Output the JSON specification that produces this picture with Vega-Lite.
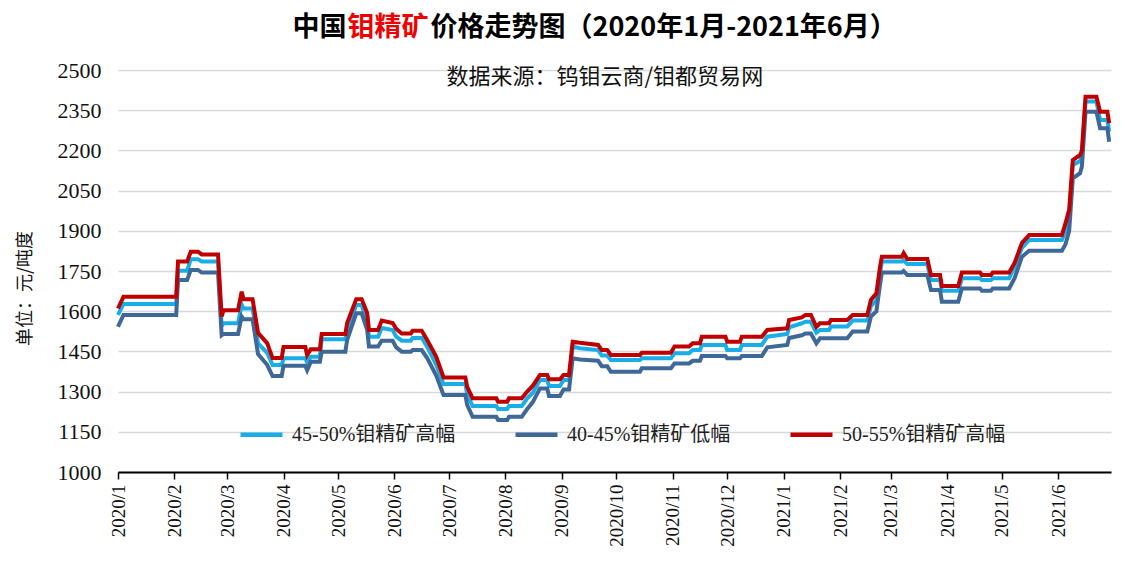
{
  "$schema": "https://vega.github.io/schema/vega-lite/v6.json",
  "width": 993,
  "height": 402,
  "autosize": {"type": "none"},
  "padding": {"left": 118, "top": 70, "right": 34, "bottom": 96},
  "background": "white",
  "config": {"view": {"stroke": null}},
  "data": {"values": [
    {"d":"2020-01-01","45-50%钼精矿高幅":1586,"40-45%钼精矿低幅":1542,"50-55%钼精矿高幅":1610},
    {"d":"2020-01-04","45-50%钼精矿高幅":1627,"40-45%钼精矿低幅":1586,"50-55%钼精矿高幅":1654},
    {"d":"2020-02-02","45-50%钼精矿高幅":1627,"40-45%钼精矿低幅":1586,"50-55%钼精矿高幅":1654},
    {"d":"2020-02-03","45-50%钼精矿高幅":1751,"40-45%钼精矿低幅":1716,"50-55%钼精矿高幅":1785},
    {"d":"2020-02-08","45-50%钼精矿高幅":1751,"40-45%钼精矿低幅":1716,"50-55%钼精矿高幅":1785},
    {"d":"2020-02-10","45-50%钼精矿高幅":1794,"40-45%钼精矿低幅":1754,"50-55%钼精矿高幅":1822},
    {"d":"2020-02-14","45-50%钼精矿高幅":1794,"40-45%钼精矿低幅":1754,"50-55%钼精矿高幅":1822},
    {"d":"2020-02-16","45-50%钼精矿高幅":1785,"40-45%钼精矿低幅":1744,"50-55%钼精矿高幅":1812},
    {"d":"2020-02-25","45-50%钼精矿高幅":1785,"40-45%钼精矿低幅":1744,"50-55%钼精矿高幅":1812},
    {"d":"2020-02-27","45-50%钼精矿高幅":1545,"40-45%钼精矿低幅":1510,"50-55%钼精矿高幅":1580},
    {"d":"2020-02-28","45-50%钼精矿高幅":1555,"40-45%钼精矿低幅":1515,"50-55%钼精矿高幅":1604},
    {"d":"2020-03-07","45-50%钼精矿高幅":1555,"40-45%钼精矿低幅":1515,"50-55%钼精矿高幅":1604},
    {"d":"2020-03-09","45-50%钼精矿高幅":1625,"40-45%钼精矿低幅":1580,"50-55%钼精矿高幅":1673},
    {"d":"2020-03-10","45-50%钼精矿高幅":1610,"40-45%钼精矿低幅":1570,"50-55%钼精矿高幅":1645},
    {"d":"2020-03-15","45-50%钼精矿高幅":1610,"40-45%钼精矿低幅":1570,"50-55%钼精矿高幅":1645},
    {"d":"2020-03-18","45-50%钼精矿高幅":1480,"40-45%钼精矿低幅":1440,"50-55%钼精矿高幅":1519},
    {"d":"2020-03-23","45-50%钼精矿高幅":1445,"40-45%钼精矿低幅":1400,"50-55%钼精矿高幅":1481},
    {"d":"2020-03-26","45-50%钼精矿高幅":1399,"40-45%钼精矿低幅":1358,"50-55%钼精矿高幅":1425},
    {"d":"2020-03-31","45-50%钼精矿高幅":1399,"40-45%钼精矿低幅":1358,"50-55%钼精矿高幅":1425},
    {"d":"2020-04-01","45-50%钼精矿高幅":1424,"40-45%钼精矿低幅":1396,"50-55%钼精矿高幅":1466},
    {"d":"2020-04-13","45-50%钼精矿高幅":1424,"40-45%钼精矿低幅":1396,"50-55%钼精矿高幅":1466},
    {"d":"2020-04-14","45-50%钼精矿高幅":1410,"40-45%钼精矿低幅":1380,"50-55%钼精矿高幅":1436},
    {"d":"2020-04-16","45-50%钼精矿高幅":1430,"40-45%钼精矿低幅":1411,"50-55%钼精矿高幅":1458},
    {"d":"2020-04-21","45-50%钼精矿高幅":1430,"40-45%钼精矿低幅":1411,"50-55%钼精矿高幅":1458},
    {"d":"2020-04-22","45-50%钼精矿高幅":1495,"40-45%钼精矿低幅":1449,"50-55%钼精矿高幅":1515},
    {"d":"2020-05-05","45-50%钼精矿高幅":1495,"40-45%钼精矿低幅":1449,"50-55%钼精矿高幅":1515},
    {"d":"2020-05-06","45-50%钼精矿高幅":1530,"40-45%钼精矿低幅":1493,"50-55%钼精矿高幅":1556},
    {"d":"2020-05-11","45-50%钼精矿高幅":1623,"40-45%钼精矿低幅":1592,"50-55%钼精矿高幅":1645},
    {"d":"2020-05-14","45-50%钼精矿高幅":1623,"40-45%钼精矿低幅":1592,"50-55%钼精矿高幅":1645},
    {"d":"2020-05-17","45-50%钼精矿高幅":1560,"40-45%钼精矿低幅":1530,"50-55%钼精矿高幅":1593},
    {"d":"2020-05-18","45-50%钼精矿高幅":1505,"40-45%钼精矿低幅":1468,"50-55%钼精矿高幅":1530},
    {"d":"2020-05-23","45-50%钼精矿高幅":1505,"40-45%钼精矿低幅":1468,"50-55%钼精矿高幅":1530},
    {"d":"2020-05-25","45-50%钼精矿高幅":1537,"40-45%钼精矿低幅":1490,"50-55%钼精矿高幅":1565},
    {"d":"2020-05-31","45-50%钼精矿高幅":1530,"40-45%钼精矿低幅":1490,"50-55%钼精矿高幅":1556},
    {"d":"2020-06-02","45-50%钼精矿高幅":1505,"40-45%钼精矿低幅":1465,"50-55%钼精矿高幅":1534},
    {"d":"2020-06-05","45-50%钼精矿高幅":1490,"40-45%钼精矿低幅":1449,"50-55%钼精矿高幅":1517},
    {"d":"2020-06-10","45-50%钼精矿高幅":1490,"40-45%钼精矿低幅":1449,"50-55%钼精矿高幅":1517},
    {"d":"2020-06-11","45-50%钼精矿高幅":1500,"40-45%钼精矿低幅":1455,"50-55%钼精矿高幅":1527},
    {"d":"2020-06-16","45-50%钼精矿高幅":1500,"40-45%钼精矿低幅":1455,"50-55%钼精矿高幅":1527},
    {"d":"2020-06-19","45-50%钼精矿高幅":1468,"40-45%钼精矿低幅":1425,"50-55%钼精矿高幅":1493},
    {"d":"2020-06-24","45-50%钼精矿高幅":1400,"40-45%钼精矿低幅":1360,"50-55%钼精矿高幅":1430},
    {"d":"2020-06-28","45-50%钼精矿高幅":1328,"40-45%钼精矿低幅":1287,"50-55%钼精矿高幅":1353},
    {"d":"2020-07-10","45-50%钼精矿高幅":1328,"40-45%钼精矿低幅":1287,"50-55%钼精矿高幅":1353},
    {"d":"2020-07-11","45-50%钼精矿高幅":1290,"40-45%钼精矿低幅":1250,"50-55%钼精矿高幅":1318},
    {"d":"2020-07-14","45-50%钼精矿高幅":1246,"40-45%钼精矿低幅":1206,"50-55%钼精矿高幅":1275},
    {"d":"2020-07-27","45-50%钼精矿高幅":1246,"40-45%钼精矿低幅":1206,"50-55%钼精矿高幅":1275},
    {"d":"2020-07-28","45-50%钼精矿高幅":1235,"40-45%钼精矿低幅":1194,"50-55%钼精矿高幅":1262},
    {"d":"2020-08-02","45-50%钼精矿高幅":1235,"40-45%钼精矿低幅":1194,"50-55%钼精矿高幅":1262},
    {"d":"2020-08-03","45-50%钼精矿高幅":1246,"40-45%钼精矿低幅":1206,"50-55%钼精矿高幅":1275},
    {"d":"2020-08-10","45-50%钼精矿高幅":1246,"40-45%钼精矿低幅":1206,"50-55%钼精矿高幅":1275},
    {"d":"2020-08-13","45-50%钼精矿高幅":1275,"40-45%钼精矿低幅":1235,"50-55%钼精矿高幅":1300},
    {"d":"2020-08-16","45-50%钼精矿高幅":1295,"40-45%钼精矿低幅":1260,"50-55%钼精矿高幅":1321},
    {"d":"2020-08-20","45-50%钼精矿高幅":1343,"40-45%钼精矿低幅":1312,"50-55%钼精矿高幅":1362},
    {"d":"2020-08-24","45-50%钼精矿高幅":1343,"40-45%钼精矿低幅":1312,"50-55%钼精矿高幅":1362},
    {"d":"2020-08-25","45-50%钼精矿高幅":1321,"40-45%钼精矿低幅":1284,"50-55%钼精矿高幅":1346},
    {"d":"2020-08-31","45-50%钼精矿高幅":1321,"40-45%钼精矿低幅":1284,"50-55%钼精矿高幅":1346},
    {"d":"2020-09-02","45-50%钼精矿高幅":1343,"40-45%钼精矿低幅":1308,"50-55%钼精矿高幅":1362},
    {"d":"2020-09-05","45-50%钼精矿高幅":1343,"40-45%钼精矿低幅":1308,"50-55%钼精矿高幅":1362},
    {"d":"2020-09-07","45-50%钼精矿高幅":1468,"40-45%钼精矿低幅":1424,"50-55%钼精矿高幅":1486},
    {"d":"2020-09-11","45-50%钼精矿高幅":1462,"40-45%钼精矿低幅":1420,"50-55%钼精矿高幅":1482},
    {"d":"2020-09-21","45-50%钼精矿高幅":1455,"40-45%钼精矿低幅":1415,"50-55%钼精矿高幅":1474},
    {"d":"2020-09-23","45-50%钼精矿高幅":1435,"40-45%钼精矿低幅":1395,"50-55%钼精矿高幅":1455},
    {"d":"2020-09-26","45-50%钼精矿高幅":1435,"40-45%钼精矿低幅":1395,"50-55%钼精矿高幅":1455},
    {"d":"2020-09-28","45-50%钼精矿高幅":1418,"40-45%钼精矿低幅":1374,"50-55%钼精矿高幅":1437},
    {"d":"2020-10-14","45-50%钼精矿高幅":1418,"40-45%钼精矿低幅":1374,"50-55%钼精矿高幅":1437},
    {"d":"2020-10-15","45-50%钼精矿高幅":1424,"40-45%钼精矿低幅":1387,"50-55%钼精矿高幅":1445},
    {"d":"2020-10-31","45-50%钼精矿高幅":1424,"40-45%钼精矿低幅":1387,"50-55%钼精矿高幅":1445},
    {"d":"2020-11-02","45-50%钼精矿高幅":1443,"40-45%钼精矿低幅":1405,"50-55%钼精矿高幅":1468},
    {"d":"2020-11-10","45-50%钼精矿高幅":1443,"40-45%钼精矿低幅":1405,"50-55%钼精矿高幅":1468},
    {"d":"2020-11-12","45-50%钼精矿高幅":1455,"40-45%钼精矿低幅":1415,"50-55%钼精矿高幅":1480},
    {"d":"2020-11-16","45-50%钼精矿高幅":1455,"40-45%钼精矿低幅":1415,"50-55%钼精矿高幅":1480},
    {"d":"2020-11-17","45-50%钼精矿高幅":1474,"40-45%钼精矿低幅":1433,"50-55%钼精矿高幅":1505},
    {"d":"2020-11-30","45-50%钼精矿高幅":1474,"40-45%钼精矿低幅":1433,"50-55%钼精矿高幅":1505},
    {"d":"2020-12-01","45-50%钼精矿高幅":1455,"40-45%钼精矿低幅":1424,"50-55%钼精矿高幅":1486},
    {"d":"2020-12-08","45-50%钼精矿高幅":1455,"40-45%钼精矿低幅":1424,"50-55%钼精矿高幅":1486},
    {"d":"2020-12-09","45-50%钼精矿高幅":1474,"40-45%钼精矿低幅":1433,"50-55%钼精矿高幅":1505},
    {"d":"2020-12-20","45-50%钼精矿高幅":1474,"40-45%钼精矿低幅":1433,"50-55%钼精矿高幅":1505},
    {"d":"2020-12-23","45-50%钼精矿高幅":1505,"40-45%钼精矿低幅":1465,"50-55%钼精矿高幅":1530},
    {"d":"2021-01-03","45-50%钼精矿高幅":1515,"40-45%钼精矿低幅":1474,"50-55%钼精矿高幅":1536},
    {"d":"2021-01-04","45-50%钼精矿高幅":1540,"40-45%钼精矿低幅":1500,"50-55%钼精矿高幅":1567},
    {"d":"2021-01-11","45-50%钼精矿高幅":1555,"40-45%钼精矿低幅":1510,"50-55%钼精矿高幅":1577},
    {"d":"2021-01-13","45-50%钼精矿高幅":1561,"40-45%钼精矿低幅":1517,"50-55%钼精矿高幅":1586},
    {"d":"2021-01-16","45-50%钼精矿高幅":1561,"40-45%钼精矿低幅":1517,"50-55%钼精矿高幅":1586},
    {"d":"2021-01-19","45-50%钼精矿高幅":1520,"40-45%钼精矿低幅":1480,"50-55%钼精矿高幅":1542},
    {"d":"2021-01-21","45-50%钼精矿高幅":1530,"40-45%钼精矿低幅":1499,"50-55%钼精矿高幅":1555},
    {"d":"2021-01-26","45-50%钼精矿高幅":1530,"40-45%钼精矿低幅":1499,"50-55%钼精矿高幅":1555},
    {"d":"2021-01-27","45-50%钼精矿高幅":1543,"40-45%钼精矿低幅":1499,"50-55%钼精矿高幅":1567},
    {"d":"2021-02-05","45-50%钼精矿高幅":1543,"40-45%钼精矿低幅":1499,"50-55%钼精矿高幅":1567},
    {"d":"2021-02-08","45-50%钼精矿高幅":1565,"40-45%钼精矿低幅":1524,"50-55%钼精矿高幅":1586},
    {"d":"2021-02-16","45-50%钼精矿高幅":1565,"40-45%钼精矿低幅":1524,"50-55%钼精矿高幅":1586},
    {"d":"2021-02-18","45-50%钼精矿高幅":1620,"40-45%钼精矿低幅":1580,"50-55%钼精矿高幅":1642},
    {"d":"2021-02-21","45-50%钼精矿高幅":1640,"40-45%钼精矿低幅":1600,"50-55%钼精矿高幅":1667},
    {"d":"2021-02-23","45-50%钼精矿高幅":1740,"40-45%钼精矿低幅":1700,"50-55%钼精矿高幅":1766},
    {"d":"2021-02-24","45-50%钼精矿高幅":1785,"40-45%钼精矿低幅":1744,"50-55%钼精矿高幅":1803},
    {"d":"2021-03-07","45-50%钼精矿高幅":1785,"40-45%钼精矿低幅":1744,"50-55%钼精矿高幅":1803},
    {"d":"2021-03-08","45-50%钼精矿高幅":1790,"40-45%钼精矿低幅":1750,"50-55%钼精矿高幅":1817},
    {"d":"2021-03-10","45-50%钼精矿高幅":1776,"40-45%钼精矿低幅":1735,"50-55%钼精矿高幅":1795},
    {"d":"2021-03-21","45-50%钼精矿高幅":1776,"40-45%钼精矿低幅":1735,"50-55%钼精矿高幅":1795},
    {"d":"2021-03-23","45-50%钼精矿高幅":1716,"40-45%钼精矿低幅":1679,"50-55%钼精矿高幅":1735},
    {"d":"2021-03-28","45-50%钼精矿高幅":1716,"40-45%钼精矿低幅":1679,"50-55%钼精矿高幅":1735},
    {"d":"2021-03-29","45-50%钼精矿高幅":1676,"40-45%钼精矿低幅":1635,"50-55%钼精矿高幅":1694},
    {"d":"2021-04-07","45-50%钼精矿高幅":1676,"40-45%钼精矿低幅":1635,"50-55%钼精矿高幅":1694},
    {"d":"2021-04-09","45-50%钼精矿高幅":1723,"40-45%钼精矿低幅":1685,"50-55%钼精矿高幅":1744},
    {"d":"2021-04-19","45-50%钼精矿高幅":1723,"40-45%钼精矿低幅":1685,"50-55%钼精矿高幅":1744},
    {"d":"2021-04-20","45-50%钼精矿高幅":1716,"40-45%钼精矿低幅":1676,"50-55%钼精矿高幅":1735},
    {"d":"2021-04-25","45-50%钼精矿高幅":1716,"40-45%钼精矿低幅":1676,"50-55%钼精矿高幅":1735},
    {"d":"2021-04-26","45-50%钼精矿高幅":1723,"40-45%钼精矿低幅":1685,"50-55%钼精矿高幅":1744},
    {"d":"2021-05-05","45-50%钼精矿高幅":1723,"40-45%钼精矿低幅":1685,"50-55%钼精矿高幅":1744},
    {"d":"2021-05-08","45-50%钼精矿高幅":1766,"40-45%钼精矿低幅":1723,"50-55%钼精矿高幅":1780},
    {"d":"2021-05-12","45-50%钼精矿高幅":1836,"40-45%钼精矿低幅":1803,"50-55%钼精矿高幅":1854},
    {"d":"2021-05-16","45-50%钼精矿高幅":1866,"40-45%钼精矿低幅":1826,"50-55%钼精矿高幅":1884},
    {"d":"2021-06-03","45-50%钼精矿高幅":1866,"40-45%钼精矿低幅":1826,"50-55%钼精矿高幅":1884},
    {"d":"2021-06-05","45-50%钼精矿高幅":1900,"40-45%钼精矿低幅":1850,"50-55%钼精矿高幅":1929},
    {"d":"2021-06-07","45-50%钼精矿高幅":1950,"40-45%钼精矿低幅":1900,"50-55%钼精矿高幅":1978},
    {"d":"2021-06-09","45-50%钼精矿高幅":2146,"40-45%钼精矿低幅":2096,"50-55%钼精矿高幅":2164},
    {"d":"2021-06-13","45-50%钼精矿高幅":2160,"40-45%钼精矿低幅":2115,"50-55%钼精矿高幅":2183},
    {"d":"2021-06-14","45-50%钼精矿高幅":2180,"40-45%钼精矿低幅":2140,"50-55%钼精矿高幅":2200},
    {"d":"2021-06-16","45-50%钼精矿高幅":2382,"40-45%钼精矿低幅":2344,"50-55%钼精矿高幅":2400},
    {"d":"2021-06-22","45-50%钼精矿高幅":2382,"40-45%钼精矿低幅":2344,"50-55%钼精矿高幅":2400},
    {"d":"2021-06-24","45-50%钼精矿高幅":2313,"40-45%钼精矿低幅":2283,"50-55%钼精矿高幅":2344},
    {"d":"2021-06-28","45-50%钼精矿高幅":2313,"40-45%钼精矿低幅":2283,"50-55%钼精矿高幅":2344},
    {"d":"2021-06-29","45-50%钼精矿高幅":2270,"40-45%钼精矿低幅":2232,"50-55%钼精矿高幅":2302}
  ]},
  "transform": [
    {"fold": ["45-50%钼精矿高幅", "40-45%钼精矿低幅", "50-55%钼精矿高幅"], "as": ["s", "v"]}
  ],
  "resolve": {"axis": {"x": "independent", "y": "independent"}},
  "layer": [
    {
      "mark": {"type": "line", "strokeWidth": 4, "strokeJoin": "miter", "interpolate": "linear"},
      "encoding": {
        "x": {
          "field": "d", "type": "temporal",
          "scale": {"type": "utc", "domain": [{"year": 2020, "month": 1, "date": 1, "utc": true}, {"year": 2021, "month": 6, "date": 30, "utc": true}]},
          "axis": {
            "orient": "bottom",
            "format": "%Y/%-m",
            "tickCount": {"interval": "month", "step": 1},
            "labelAngle": -90,
            "labelFont": "Liberation Serif",
            "labelFontSize": 19,
            "labelColor": "#111111",
            "labelPadding": 5,
            "labelOverlap": false,
            "labelFlush": false,
            "domainColor": "#000000",
            "domainWidth": 2,
            "tickColor": "#000000",
            "tickWidth": 1.5,
            "tickSize": 7,
            "grid": false,
            "title": "中国",
            "titleFont": "Noto Sans CJK SC",
            "titleFontSize": 27,
            "titleFontWeight": "bold",
            "titleColor": "#000000",
            "titleAngle": 0,
            "titleAlign": "left",
            "titleBaseline": "middle",
            "titleX": 174,
            "titleY": -445
          }
        },
        "y": {
          "field": "v", "type": "quantitative",
          "scale": {"domain": [1000, 2500], "nice": false, "zero": false},
          "axis": {
            "orient": "left",
            "values": [1000, 1150, 1300, 1450, 1600, 1750, 1900, 2050, 2200, 2350, 2500],
            "format": "d",
            "labelFont": "Liberation Serif",
            "labelFontSize": 22,
            "labelColor": "#111111",
            "labelPadding": 17,
            "ticks": false,
            "domain": false,
            "grid": true,
            "gridColor": "#d9d9d9",
            "gridWidth": 1.5,
            "title": "单位：元/吨度",
            "titleFont": "Noto Sans CJK SC",
            "titleFontSize": 18,
            "titleFontWeight": "normal",
            "titleColor": "#111111",
            "titleAngle": -90,
            "titleAlign": "center",
            "titleBaseline": "middle",
            "titleX": -93,
            "titleY": 218
          }
        },
        "color": {
          "field": "s", "type": "nominal",
          "scale": {"domain": ["45-50%钼精矿高幅", "40-45%钼精矿低幅", "50-55%钼精矿高幅"], "range": ["#1aaee8", "#3e6898", "#c00000"]},
          "legend": {
            "orient": "none",
            "legendX": 120,
            "legendY": 341,
            "direction": "horizontal",
            "title": null,
            "padding": 0,
            "symbolType": "stroke",
            "symbolSize": 1764,
            "symbolStrokeWidth": 4.5,
            "labelFont": "Liberation Serif, Noto Sans CJK SC",
            "labelFontSize": 20,
            "labelColor": "#222222",
            "labelOffset": 7,
            "labelLimit": 400,
            "columnPadding": 50
          }
        }
      }
    },
    {
      "mark": {"type": "line", "opacity": 0},
      "encoding": {
        "x": {
          "field": "d", "type": "temporal",
          "scale": {"type": "utc", "domain": [{"year": 2020, "month": 1, "date": 1, "utc": true}, {"year": 2021, "month": 6, "date": 30, "utc": true}]},
          "axis": {
            "orient": "top",
            "labels": false, "ticks": false, "domain": false, "grid": false,
            "title": "钼精矿",
            "titleFont": "Noto Sans CJK SC",
            "titleFontSize": 27,
            "titleFontWeight": "bold",
            "titleColor": "#f00000",
            "titleAngle": 0,
            "titleAlign": "left",
            "titleBaseline": "middle",
            "titleX": 229,
            "titleY": -43
          }
        },
        "y": {
          "field": "v", "type": "quantitative",
          "scale": {"domain": [1000, 2500], "nice": false, "zero": false},
          "axis": {
            "orient": "right",
            "labels": false, "ticks": false, "domain": false, "grid": false,
            "title": "数据来源：钨钼云商/钼都贸易网",
            "titleFont": "Noto Sans CJK SC",
            "titleFontSize": 22,
            "titleFontWeight": "normal",
            "titleColor": "#111111",
            "titleAngle": 0,
            "titleAlign": "left",
            "titleBaseline": "middle",
            "titleX": -665,
            "titleY": 6
          }
        },
        "detail": {"field": "s", "type": "nominal"}
      }
    },
    {
      "mark": {"type": "line", "opacity": 0},
      "encoding": {
        "x": {
          "field": "d", "type": "temporal",
          "scale": {"type": "utc", "domain": [{"year": 2020, "month": 1, "date": 1, "utc": true}, {"year": 2021, "month": 6, "date": 30, "utc": true}]},
          "axis": {
            "orient": "top",
            "labels": false, "ticks": false, "domain": false, "grid": false,
            "title": "价格走势图（2020年1月-2021年6月）",
            "titleFont": "Noto Sans CJK SC",
            "titleFontSize": 27,
            "titleFontWeight": "bold",
            "titleColor": "#000000",
            "titleAngle": 0,
            "titleAlign": "left",
            "titleBaseline": "middle",
            "titleX": 312,
            "titleY": -43
          }
        },
        "y": {
          "field": "v", "type": "quantitative",
          "scale": {"domain": [1000, 2500], "nice": false, "zero": false},
          "axis": null
        },
        "detail": {"field": "s", "type": "nominal"}
      }
    }
  ]
}
